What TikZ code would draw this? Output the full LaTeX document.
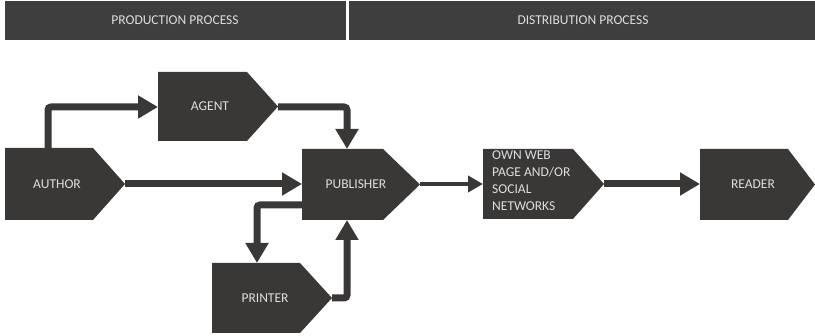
\documentclass[tikz,border=0pt]{standalone}
\usepackage{fontspec}
\setmainfont{Carlito}
\usetikzlibrary{arrows.meta}
\definecolor{shapefill}{RGB}{58,55,55}
\definecolor{headfill}{RGB}{62,62,62}
\definecolor{txt}{RGB}{222,222,222}
\tikzset{
  lbl/.style={text=txt, font=\fontsize{13.5}{16}\selectfont, inner sep=0pt},
  box/.style={fill=shapefill, draw=none},
  hdr/.style={fill=headfill, draw=none},
  conn/.style={draw=shapefill, line width=7pt, rounded corners=3pt,
    -{Triangle[width=22pt,length=20pt]}},
  thinconn/.style={draw=shapefill, line width=4pt,
    -{Triangle[width=16pt,length=15pt]}}
}
\newcommand{\sigshape}[5]{\path[box] (#1,#4) -- (#2,#4) -- (#3,{(#4+#5)/2}) -- (#2,#5) -- (#1,#5) -- cycle;}
\begin{document}
\begin{tikzpicture}[x=1pt,y=-1pt]
\useasboundingbox (0,0) rectangle (815,336);
% header
\path[hdr] (5,1) rectangle (346,40);
\path[hdr] (349,1) rectangle (815,40);
\node[lbl] (hprod) at (175,20.5) {PRODUCTION PROCESS};
\node[lbl] (hdist) at (583,20.5) {DISTRIBUTION PROCESS};
% shapes
\sigshape{5}{93}{125}{148}{220}
\sigshape{158}{247}{278}{72}{141}
\sigshape{302}{383}{420}{149}{220}
\sigshape{212}{300}{332}{263}{333}
\sigshape{483}{573}{604}{149}{219}
\sigshape{700}{788}{815}{149}{220}
% labels
\node[lbl] (author) at (57,184) {AUTHOR};
\node[lbl] (agent) at (210,106.5) {AGENT};
\node[lbl] (publisher) at (356,184.5) {PUBLISHER};
\node[lbl] (printer) at (265,298) {PRINTER};
\node[lbl] (reader) at (753,184.5) {READER};
\node[lbl, anchor=north west, align=left, font=\fontsize{13.5}{17}\selectfont] (web) at (492,151) {OWN WEB\\PAGE AND/OR\\SOCIAL\\NETWORKS};
% ports
\coordinate (authorTop) at (48,148);
\coordinate (authorTip) at (125,184);
\coordinate (agentW) at (158,107);
\coordinate (agentTip) at (278,107);
\coordinate (pubTop) at (347,149);
\coordinate (pubW) at (302,184);
\coordinate (pubInner) at (318,205);
\coordinate (pubBot) at (347,220);
\coordinate (pubTip) at (420,184);
\coordinate (printerTop) at (257,263);
\coordinate (printerTip) at (332,298);
\coordinate (webW) at (483,184);
\coordinate (webTip) at (604,184);
\coordinate (readerW) at (700,184);
% connectors
\draw[conn] (authorTop) |- (agentW);
\draw[conn] (agentTip) -| (pubTop);
\draw[conn] (authorTip) -- (pubW);
\draw[conn] (pubInner) -| (printerTop);
\draw[conn] (printerTip) -| (pubBot);
\draw[thinconn] (pubTip) -- (webW);
\draw[conn] (webTip) -- (readerW);
\end{tikzpicture}
\end{document}
